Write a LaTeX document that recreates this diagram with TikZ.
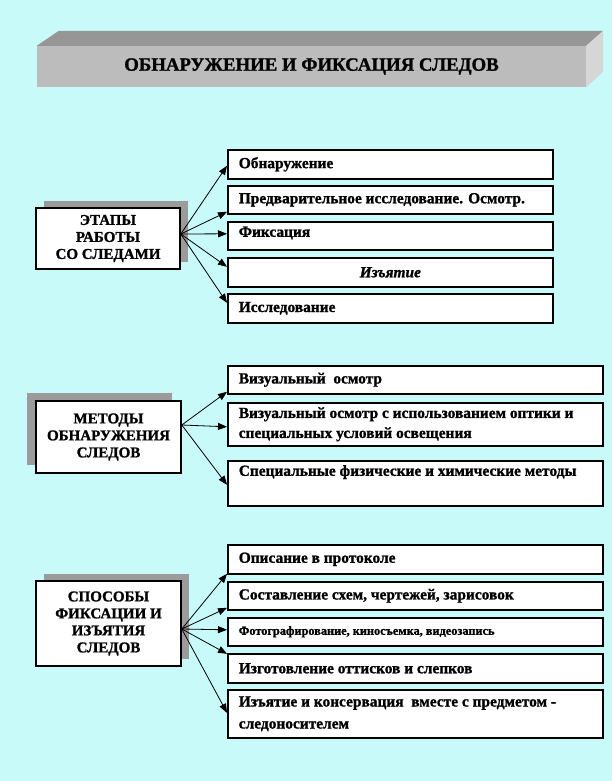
\documentclass[tikz,border=0pt]{standalone}
\usepackage{fontspec}
\setmainfont{Liberation Serif}[BoldFeatures={FakeBold=1.2},BoldItalicFeatures={FakeBold=1.2}]
\usetikzlibrary{arrows.meta,shadows,calc}
\definecolor{bg}{RGB}{200,250,250}
\definecolor{topgray}{RGB}{150,150,150}
\definecolor{frontgray}{RGB}{188,188,188}
\definecolor{sidegray}{RGB}{214,214,214}
\definecolor{shadowgray}{RGB}{155,155,155}
\tikzset{
  rbox/.style={draw=black, line width=1.6pt, fill=white, anchor=north west,
    inner xsep=11pt, inner ysep=0pt, align=flush left,
    font=\fontsize{15.4}{20}\selectfont\bfseries},
  lbox/.style={draw=black, line width=1.6pt, fill=white, inner sep=0pt, align=center,
    font=\fontsize{15}{17}\selectfont\bfseries},
  shadowUR/.style={general shadow={fill=shadowgray, shadow xshift=8pt, shadow yshift=7pt}},
  shadowUL/.style={general shadow={fill=shadowgray, shadow xshift=-9pt, shadow yshift=8pt}},
  arr/.style={-{Triangle[length=9pt,width=7pt]}, line width=0.8pt},
  titlebox/.style={fill=frontgray, inner sep=0pt, font=\fontsize{18.8}{20}\selectfont\bfseries},
}
\begin{document}
\begin{tikzpicture}[x=1pt,y=-1pt]
\fill[bg] (0,0) rectangle (612,781);
\useasboundingbox (0,0) rectangle (612,781);

% title banner
\node[titlebox, minimum width=549pt, minimum height=41pt] (T) at (311.5,66.5) {ОБНАРУЖЕНИЕ И ФИКСАЦИЯ СЛЕДОВ};
\fill[topgray] (T.north west) -- ++(22,-15) -- ($(T.north east)+(17,-15)$) -- (T.north east) -- cycle;
\fill[sidegray] (T.north east) -- ++(17,-15) -- ++(0,41) -- (T.south east) -- cycle;

% section 1
\node[lbox, shadowUR, minimum width=144pt, minimum height=61pt] (L1) at (108,238.5) {ЭТАПЫ\\РАБОТЫ\\СО СЛЕДАМИ};
\node[rbox, text width=303pt, minimum height=29pt] (a1) at (227,149) {Обнаружение};
\node[rbox, text width=303pt, minimum height=28pt] (a2) at (227,185) {Предварительное исследование. Осмотр.};
\node[rbox, text width=303pt, minimum height=28pt, text height=11pt, text depth=9pt] (a3) at (227,221) {Фиксация};
\node[rbox, text width=303pt, minimum height=29pt, align=center] (a4) at (227,257) {\itshape Изъятие};
\node[rbox, text width=303pt, minimum height=29pt] (a5) at (227,293) {Исследование};
\draw[arr] ([yshift=4.5pt]L1.east) -- ([yshift=-1.5pt]a1.west);
\draw[arr] ([yshift=4.5pt]L1.east) -- ([yshift=-12pt]a2.west);
\draw[arr] ([yshift=4.5pt]L1.east) -- ([yshift=2pt]a3.west);
\draw[arr] ([yshift=4.5pt]L1.east) -- ([yshift=5.5pt]a4.west);
\draw[arr] ([yshift=4.5pt]L1.east) -- ([yshift=5.5pt]a5.west);

% section 2
\node[lbox, shadowUL, minimum width=145pt, minimum height=72pt] (L2) at (108.5,437) {МЕТОДЫ\\ОБНАРУЖЕНИЯ\\СЛЕДОВ};
\node[rbox, text width=353pt, minimum height=28pt] (b1) at (227,365) {Визуальный\ \ осмотр};
\node[rbox, text width=353pt, minimum height=43pt] (b2) at (227,402) {Визуальный осмотр с использованием оптики и\\специальных условий освещения};
\node[rbox, text width=353pt, minimum height=45pt, text height=11pt, text depth=26pt] (b3) at (227,460) {Специальные физические и химические методы};
\draw[arr] ([yshift=12pt]L2.east) -- ([yshift=-12pt]b1.west);
\draw[arr] ([yshift=12pt]L2.east) -- ([yshift=-2.5pt]b2.west);
\draw[arr] ([yshift=12pt]L2.east) -- ([yshift=-1.5pt]b3.west);

% section 3
\node[lbox, shadowUR, minimum width=145pt, minimum height=85pt] (L3) at (108.5,623.5) {СПОСОБЫ\\ФИКСАЦИИ И\\ИЗЪЯТИЯ\\СЛЕДОВ};
\node[rbox, text width=353pt, minimum height=29pt] (c1) at (227,544) {Описание в протоколе};
\node[rbox, text width=353pt, minimum height=28pt] (c2) at (227,581) {Составление схем, чертежей, зарисовок};
\node[rbox, text width=353pt, minimum height=28pt, font=\fontsize{12.3}{14}\selectfont\bfseries] (c3) at (227,617) {Фотографирование, киносъемка, видеозапись};
\node[rbox, text width=353pt, minimum height=29pt] (c4) at (227,653) {Изготовление оттисков и слепков};
\node[rbox, text width=353pt, minimum height=48pt, font=\fontsize{15.4}{22}\selectfont\bfseries] (c5) at (227,689) {Изъятие и консервация\ \ вместе с предметом -\\следоносителем};
\draw[arr] ([yshift=-5.5pt]L3.east) -- ([yshift=-14.5pt]c1.west);
\draw[arr] ([yshift=-5.5pt]L3.east) -- ([yshift=-12pt]c2.west);
\draw[arr] ([yshift=-5.5pt]L3.east) -- ([yshift=2pt]c3.west);
\draw[arr] ([yshift=-5.5pt]L3.east) -- ([yshift=14.5pt]c4.west);
\draw[arr] ([yshift=-5.5pt]L3.east) -- ([yshift=1pt]c5.west);
\end{tikzpicture}
\end{document}
